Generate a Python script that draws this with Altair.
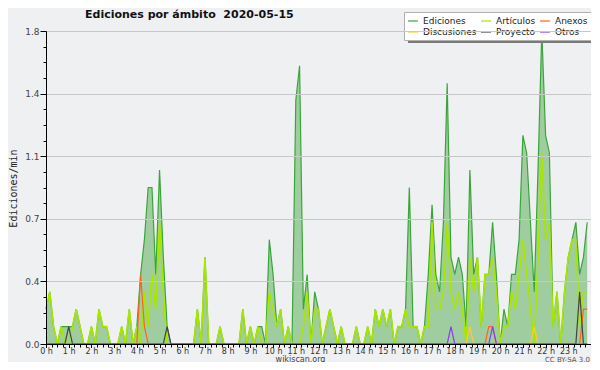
import altair as alt
import pandas as pd

# 10-minute slots of 2020-05-15, 0:00 .. 23:50 (144 slots), expressed in hours
slot_hours = [i / 6 for i in range(144)]

ediciones = [
    0.2, 0.3, 0.1, 0.0, 0.1, 0.1, 0.1, 0.1, 0.2, 0.1, 0.0, 0.0,
    0.1, 0.0, 0.2, 0.1, 0.1, 0.0, 0.0, 0.0, 0.1, 0.0, 0.2, 0.0,
    0.1, 0.4, 0.6, 0.9, 0.9, 0.4, 1.0, 0.5, 0.1, 0.0, 0.0, 0.0,
    0.0, 0.0, 0.0, 0.0, 0.2, 0.0, 0.5, 0.0, 0.0, 0.0, 0.1, 0.0,
    0.0, 0.0, 0.0, 0.0, 0.2, 0.0, 0.1, 0.0, 0.1, 0.1, 0.0, 0.6,
    0.4, 0.1, 0.2, 0.0, 0.1, 0.0, 1.4, 1.6, 0.2, 0.4, 0.0, 0.3,
    0.2, 0.0, 0.1, 0.2, 0.1, 0.0, 0.1, 0.0, 0.0, 0.0, 0.1, 0.0,
    0.0, 0.1, 0.0, 0.2, 0.1, 0.2, 0.1, 0.2, 0.0, 0.1, 0.1, 0.2,
    0.9, 0.1, 0.1, 0.0, 0.1, 0.4, 0.8, 0.4, 0.3, 0.7, 1.5, 0.5,
    0.4, 0.5, 0.4, 0.1, 1.0, 0.4, 0.5, 0.1, 0.4, 0.4, 0.7, 0.4,
    0.0, 0.2, 0.1, 0.4, 0.4, 0.6, 1.2, 1.1, 0.7, 0.3, 1.0, 1.8,
    1.2, 1.1, 0.1, 0.3, 0.0, 0.3, 0.5, 0.6, 0.7, 0.4, 0.5, 0.7,
]

articulos = [
    0.2, 0.3, 0.1, 0.0, 0.1, 0.0, 0.0, 0.1, 0.2, 0.1, 0.0, 0.0,
    0.1, 0.0, 0.2, 0.1, 0.1, 0.0, 0.0, 0.0, 0.1, 0.0, 0.2, 0.0,
    0.1, 0.0, 0.3, 0.1, 0.4, 0.2, 0.7, 0.3, 0.0, 0.0, 0.0, 0.0,
    0.0, 0.0, 0.0, 0.0, 0.2, 0.0, 0.5, 0.0, 0.0, 0.0, 0.1, 0.0,
    0.0, 0.0, 0.0, 0.0, 0.2, 0.0, 0.1, 0.0, 0.1, 0.0, 0.0, 0.3,
    0.2, 0.1, 0.2, 0.0, 0.1, 0.0, 0.0, 0.0, 0.1, 0.3, 0.0, 0.2,
    0.2, 0.0, 0.1, 0.2, 0.1, 0.0, 0.1, 0.0, 0.0, 0.0, 0.1, 0.0,
    0.0, 0.1, 0.0, 0.2, 0.1, 0.2, 0.1, 0.2, 0.0, 0.1, 0.1, 0.2,
    0.1, 0.1, 0.1, 0.0, 0.1, 0.1, 0.7, 0.2, 0.2, 0.3, 0.7, 0.3,
    0.2, 0.3, 0.2, 0.0, 0.5, 0.3, 0.5, 0.1, 0.4, 0.4, 0.5, 0.3,
    0.0, 0.1, 0.1, 0.3, 0.2, 0.4, 0.6, 0.4, 0.2, 0.0, 0.5, 1.1,
    0.6, 0.7, 0.1, 0.3, 0.0, 0.3, 0.5, 0.6, 0.6, 0.1, 0.3, 0.3,
]

# sparse series: slot index -> edits/min (all other slots are 0)
anexos = {25: 0.4, 26: 0.1, 117: 0.1, 118: 0.1, 142: 0.2, 143: 0.2}
discusiones = {112: 0.1, 129: 0.1}
proyecto = {6: 0.1, 32: 0.1, 141: 0.3}
otros = {107: 0.1, 118: 0.1}

series_names = ["Ediciones", "Artículos", "Anexos", "Discusiones", "Proyecto", "Otros"]
series_colors = ["#3aa63a", "#a8e600", "#ff6418", "#ffc93a", "#444444", "#8a3cf0"]

# (second gap is a no-break space so that SVG keeps the double space)
title_text = "Ediciones por ámbito \u00a02020-05-15"
credit_text = "CC BY-SA 3.0"

def dense(sparse):
    return [sparse.get(i, 0.0) for i in range(len(slot_hours))]

series_values = {
    "Ediciones": ediciones,
    "Artículos": articulos,
    "Anexos": dense(anexos),
    "Discusiones": dense(discusiones),
    "Proyecto": dense(proyecto),
    "Otros": dense(otros),
}

rows = []
for name in series_names:
    for h, v in zip(slot_hours, series_values[name]):
        rows.append({"h": h, "v": v, "serie": name})
long_df = pd.DataFrame(rows)
total_df = pd.DataFrame({"h": slot_hours, "v": ediciones})

x_ticks = [k * 0.25 for k in range(97)]
y_ticks = [round(k * 0.09, 2) for k in range(21)]
major_y = "abs(datum.value / 0.36 - round(datum.value / 0.36)) < 0.001"

x_scale = alt.Scale(domain=[0, 24], nice=False, zero=False)
y_scale = alt.Scale(domain=[0, 1.8], nice=False)

x_axis = alt.Axis(
    values=x_ticks,
    labelExpr="datum.value % 1 == 0 && datum.value < 24 ? datum.value + ' h' : ''",
    tickSize={"condition": {"test": "datum.value % 1 == 0", "value": 3.5}, "value": 3},
    labelFontSize=8, labelColor="#333", labelFont="DejaVu Sans", labelPadding=0,
    labelOverlap=False, labelFlush=False,
    domainColor="#000", tickColor="#000", grid=False, zindex=1,
    title="wikiscan.org", titleFontSize=8, titleFontWeight="normal", titleColor="#444",
    titleFont="DejaVu Sans", titleX=254, titleY=15, titleBaseline="middle",
)
y_axis = alt.Axis(
    values=y_ticks,
    labelExpr=f"{major_y} ? format(datum.value, '.1f') : ''",
    tickSize={"condition": {"test": major_y, "value": 6}, "value": 3},
    gridOpacity={"condition": {"test": major_y, "value": 1}, "value": 0},
    gridColor="#c8c8c8", gridWidth=1,
    labelFontSize=9, labelColor="#444", labelFont="DejaVu Sans", labelPadding=1,
    labelOverlap=False, labelFlush=False,
    domainColor="#000", tickColor="#000", zindex=1,
    title="Ediciones/min", titleFont="DejaVu Sans Mono", titleFontSize=10,
    titleFontWeight="normal", titleColor="#222", titleX=-33, titleY=157,
    titleAngle=270, titleAlign="center", titleBaseline="middle",
)

base_x = alt.X("h:Q", scale=x_scale, axis=x_axis)
base_y = alt.Y("v:Q", scale=y_scale, axis=y_axis)

area = alt.Chart(total_df).mark_area(color="#9fcd9f", opacity=1).encode(x=base_x, y=base_y)

color_scale = alt.Scale(domain=series_names, range=series_colors)
legend = alt.Legend(
    title=None, orient="none", legendX=358, legendY=-19, direction="horizontal",
    columns=3, symbolType="stroke", symbolSize=100, symbolStrokeWidth=1.2,
    labelFontSize=9, labelFont="DejaVu Sans", labelColor="#222", labelOffset=4,
    columnPadding=1, rowPadding=0, padding=3, fillColor="#ffffff",
    strokeColor="#b0b0b0", labelLimit=0,
)

# drop shadow of the legend box (drawn as a text block of full-block glyphs is avoided;
# a plain rect positioned through mark properties)
one = pd.DataFrame({"s": [1]})
shadow = alt.Chart(one).mark_rect(
    fill="#7a7a7a", x=362, x2=548, y=-14, y2=12
).encode(opacity=alt.value(1))

line_layers = []
widths = {"Ediciones": 1.2, "Artículos": 1.6}
for name in series_names:
    line_layers.append(
        alt.Chart(long_df)
        .transform_filter(alt.datum.serie == name)
        .mark_line(strokeWidth=widths.get(name, 1.2))
        .encode(
            x=base_x, y=base_y,
            color=alt.Color("serie:N", scale=color_scale, legend=legend, sort=series_names),
        )
    )

title_mark = alt.Chart(pd.DataFrame({"t": [title_text]})).mark_text(
    fontSize=11, font="DejaVu Sans", fontWeight="bold", color="#111",
    align="left", baseline="alphabetic"
).encode(text="t:N", x=alt.value(39), y=alt.value(-13))

credit = alt.Chart(pd.DataFrame({"t": [credit_text]})).mark_text(
    fontSize=7, font="DejaVu Sans", color="#555", align="right", baseline="middle"
).encode(text="t:N", x=alt.value(544), y=alt.value(328.5))

chart = alt.layer(area, *line_layers, shadow, title_mark, credit).properties(
    width=545, height=313,
    autosize=alt.AutoSizeParams(type="none"),
    padding={"left": 38, "top": 23, "right": 0, "bottom": 18},
).configure(background="#eff0f2").configure_view(stroke=None)

chart.save("out.html", embed_options={"renderer": "svg", "actions": False})
